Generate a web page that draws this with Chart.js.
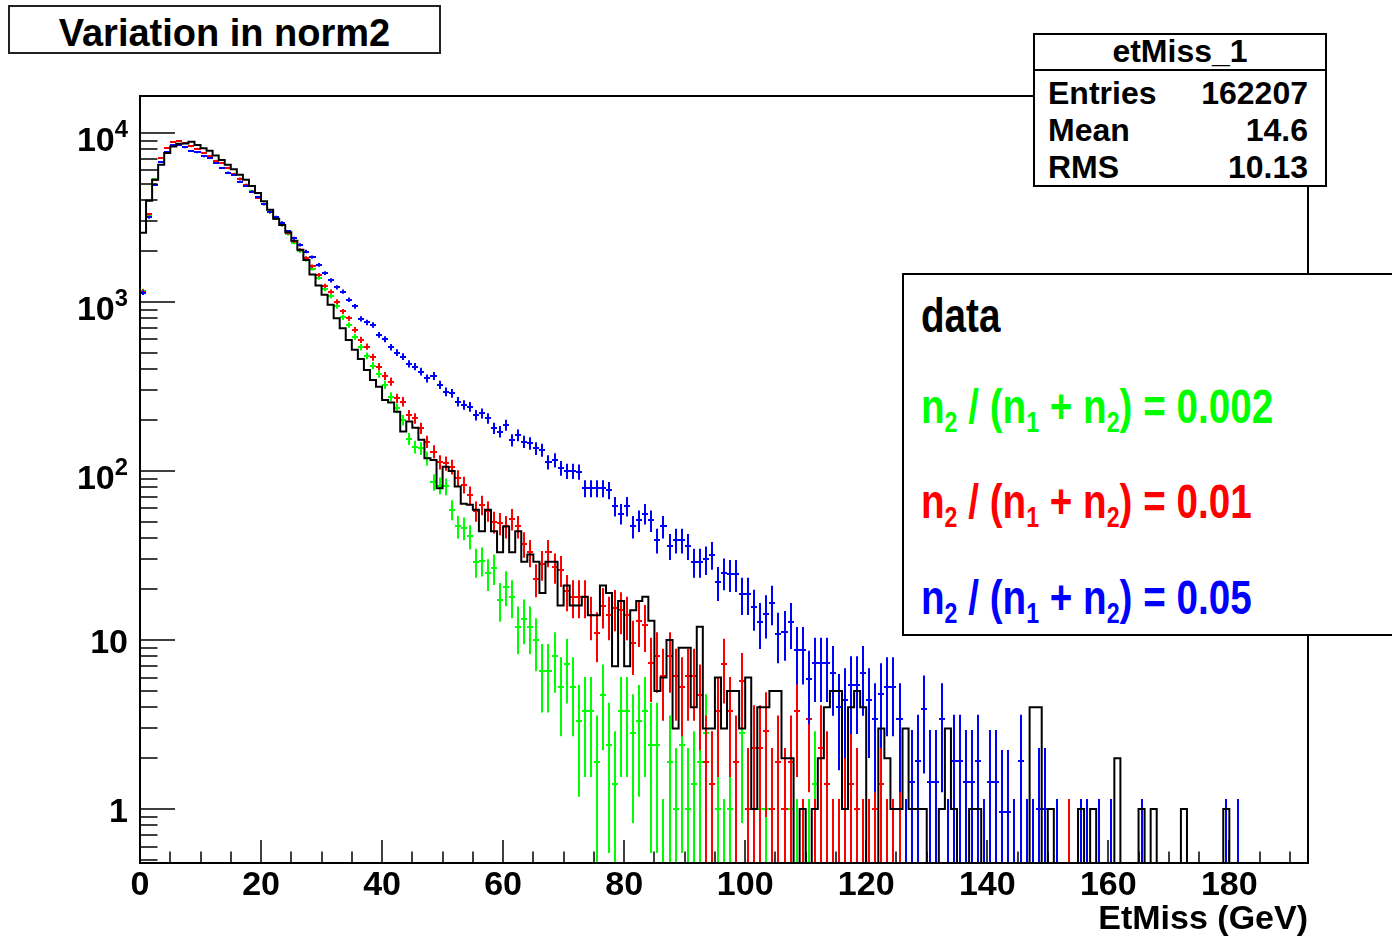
<!DOCTYPE html>
<html>
<head>
<meta charset="utf-8">
<script src="https://cdn.jsdelivr.net/npm/chart.js@4.4.1/dist/chart.umd.min.js"></script>
<style>
  html, body { margin: 0; padding: 0; background: #fff; }
  #wrap { position: relative; width: 1392px; height: 940px; overflow: hidden; background: #fff; }
  #chart { position: absolute; left: 0; top: 0; }
  .box { position: absolute; background: #fff; border: 2px solid #000; box-sizing: border-box;
         font-family: "Liberation Sans", Arial, Helvetica, sans-serif; font-weight: bold; color: #000; }
  .t { position: absolute; line-height: 1; white-space: nowrap; }
  #titleBox { left: 8px; top: 5px; width: 433px; height: 49px; border-color: #222; }
  #titleBox .t { left: 0; right: 0; text-align: center; top: 7px; font-size: 38px; }
  #statsBox { left: 1033px; top: 33px; width: 294px; height: 154px; }
  #statsBox .head { left: 0; right: 0; text-align: center; top: 0px; font-size: 32px; }
  #statsBox .rule { position: absolute; left: 0; right: 0; top: 34px; border-top: 2px solid #000; }
  #statsBox .k { left: 13px; font-size: 32px; }
  #statsBox .v { right: 17px; font-size: 32px; }
  #legBox { left: 902px; top: 273px; width: 520px; height: 363px; }
  #legBox .t { left: 17px; font-size: 48px; transform: scaleX(0.805); transform-origin: 0 0; }
  #legBox sub { font-size: 0.6em; vertical-align: -0.3em; line-height: 0; }
  .ylab { position: absolute; right: 1264px; line-height: 1; white-space: nowrap; color: #000;
          font-family: "Liberation Sans", Arial, sans-serif; font-weight: bold; font-size: 34px; }
  .ylab sup { font-size: 0.7em; vertical-align: 0.6em; line-height: 0; }
</style>
</head>
<body>
<div id="wrap">
  <canvas id="chart" width="1392" height="940"></canvas>
  <div class="box" id="titleBox"><div class="t">Variation in norm2</div></div>
  <div class="box" id="statsBox">
    <div class="t head">etMiss_1</div>
    <div class="rule"></div>
    <div class="t k" style="top:42px">Entries</div><div class="t v" style="top:42px">162207</div>
    <div class="t k" style="top:79px">Mean</div><div class="t v" style="top:79px">14.6</div>
    <div class="t k" style="top:116px">RMS</div><div class="t v" style="top:116px">10.13</div>
  </div>
  <div class="box" id="legBox">
    <div class="t" style="top:17px;color:#000">data</div>
    <div class="t" style="top:108px;color:#00ff00">n<sub>2</sub> / (n<sub>1</sub> + n<sub>2</sub>) = 0.002</div>
    <div class="t" style="top:203px;color:#ff0000">n<sub>2</sub> / (n<sub>1</sub> + n<sub>2</sub>) = 0.01</div>
    <div class="t" style="top:299px;color:#0000ff">n<sub>2</sub> / (n<sub>1</sub> + n<sub>2</sub>) = 0.05</div>
  </div>
</div>
<script>
// histogram: 193 bins of 1 GeV, EtMiss from 0 to 193
var nBins = 193;
var xMax = 193;
var yMin = 0.48, yMax = 16500;

// data histogram (black)
var black = [
  900, 2560, 3960, 5270, 6460, 7590, 8300, 8600, 8650, 8860,
  8470, 8110, 7820, 7330, 6910, 6460, 6080, 5650, 5270, 4840,
  4410, 3930, 3500, 3100, 2850, 2580, 2300, 2030, 1770, 1450,
  1250, 1100, 960, 800, 698, 595, 520, 460, 396, 345,
  315, 263, 254, 224, 171, 196, 180, 153, 119, 116,
  79, 106, 100, 81, 64, 63, 59, 44, 59, 44,
  33, 47, 33, 44, 29, 32, 29, 19, 29, 29,
  16, 21, 16, 16, 18, 14, 14, 21, 19, 7,
  17, 7, 15, 17, 18, 13, 5, 6, 10, 3,
  9, 9, 4, 12, 3, 3, 6, 3, 5, 5,
  3, 6, 1, 4, 4, 5, 5, 2, 2, 0,
  1, 0, 1, 2, 4, 5, 5, 1, 4, 5,
  4, 0, 0, 3, 2, 1, 1, 3, 1, 1,
  1, 0, 0, 1, 3, 1, 0, 0, 1, 1,
  0, 0, 0, 0, 0, 0, 0, 0, 4, 4,
  0, 1, 0, 0, 0, 0, 1, 0, 1, 0,
  0, 0, 2, 0, 0, 0, 1, 0, 1, 0,
  0, 0, 0, 1, 0, 0, 0, 0, 0, 0,
  1, 0, 0, 0, 0, 0, 0, 0, 0, 0,
  0, 0, 0
];

// n2/(n1+n2) = 0.002 (green)
var green = [
  1160, 3280, 5300, 7100, 8150, 8820, 8950, 8700, 8320, 8060,
  7620, 7260, 6850, 6630, 6200, 5720, 5360, 4930, 4500, 4150,
  3770, 3380, 3110, 2830, 2520, 2240, 1990, 1770, 1570, 1390,
  1190, 1080, 940, 810, 730, 620, 540, 480, 420, 375,
  323, 275, 235, 200, 155, 139, 136, 119, 86, 82,
  81, 59, 47, 46, 41, 29, 29.5, 24.8, 26.6, 17.3,
  20.7, 18, 12, 13.4, 12, 10, 6.6, 6.6, 8.0, 5.3,
  7.2, 5.3, 3.3, 3.8, 3.8, 1.9, 4.7, 2.4, 1.4, 3.8,
  3.8, 2.8, 3.3, 3.8, 2.4, 2.4, 0.3, 1.9, 1.0, 2.4,
  1.0, 1.4, 1.9, 2.8, 1.4, 1.0, 0.3, 1.0, 0.3, 2.8,
  1.0, 0.3, 1.0, 1.0, 0.3, 0.3, 0.3, 1.0, 0.3, 0.3,
  0.3, 1.4, 0.3, 0, 0, 0, 0, 0, 0, 0,
  0, 0, 0, 0, 0, 0, 0, 0, 0, 0,
  0, 0, 0, 0, 0, 0, 0, 0, 0, 0,
  0, 0, 0, 0, 0, 0, 0, 0, 0, 0,
  0, 0, 0, 0, 0, 0, 0, 0, 0, 0,
  0, 0, 0, 0, 0, 0, 0, 0, 0, 0,
  0, 0, 0, 0, 0, 0, 0, 0, 0, 0,
  0, 0, 0, 0, 0, 0, 0, 0, 0, 0,
  0, 0, 0
];

// n2/(n1+n2) = 0.01 (red)
var red = [
  1150, 3300, 5270, 7080, 8110, 8800, 8970, 8690, 8300, 8040,
  7590, 7240, 6820, 6610, 6180, 5700, 5340, 4920, 4490, 4140,
  3780, 3390, 3130, 2855, 2550, 2275, 2030, 1815, 1620, 1445,
  1245, 1150, 1004, 877, 800, 683, 596, 544, 471, 414,
  365, 338, 269, 257, 214, 205, 179, 149, 130, 113,
  111, 106, 91, 83, 72, 58, 63, 58, 50, 49,
  47, 52, 47, 37, 33, 23, 28, 33, 27, 26,
  19.5, 18, 18, 18, 14, 11, 16, 14, 15.5, 15,
  14, 9.6, 13, 12.3, 7.3, 8, 6.1, 8.0, 6.1, 5.3,
  6.1, 6.1, 4.7, 1.9, 1.4, 3.8, 7.2, 3.8, 1.9, 5.7,
  1.0, 2.3, 2.3, 2.9, 1.0, 1.9, 1.0, 1.9, 3.8, 0.3,
  3.4, 0.3, 2.3, 1.4, 0.3, 0.3, 1.0, 1.4, 1.0, 0.3,
  0.3, 1.0, 1.4, 0.3, 0.3, 1.0, 0.3, 0, 0, 0,
  0, 0, 0, 0, 0, 0, 0, 0, 0, 0,
  0, 0, 0, 0, 0, 0, 0, 0, 0, 0,
  0, 0, 0, 0.3, 0, 0, 0, 0, 0, 0,
  0, 0, 0, 0, 0, 0, 0, 0, 0, 0,
  0, 0, 0, 0, 0, 0, 0, 0, 0, 0,
  0, 0, 0, 0, 0, 0, 0, 0, 0, 0,
  0, 0, 0
];

// n2/(n1+n2) = 0.05 (blue)
var blue = [
  1130, 3160, 4920, 6710, 7650, 8410, 8480, 8190, 7820, 7650,
  7240, 7080, 6610, 6180, 5820, 5640, 5150, 4850, 4490, 4160,
  3800, 3420, 3170, 2945, 2610, 2380, 2175, 1985, 1840, 1655,
  1480, 1340, 1220, 1150, 1030, 940, 793, 755, 731, 638,
  601, 540, 501, 475, 430, 414, 387, 353, 365, 323,
  294, 288, 257, 246, 240, 214, 219, 205, 179, 171,
  187, 152, 163, 149, 146, 136, 133, 113, 116, 104,
  100, 100, 99, 79, 79, 79, 79, 77, 62, 56,
  62, 47, 51, 56, 51, 39, 47, 36, 39, 39,
  36, 29, 29, 30, 32, 22, 25, 24.5, 24.5, 18.7,
  18.7, 15.6, 12.7, 14.3, 16.6, 10.9, 11.2, 12.7, 8.7, 8.7,
  5.9, 7.3, 7.3, 7.3, 6.4, 4.0, 4.4, 5.4, 5.4, 6.4,
  4.4, 3.4, 4.8, 5.3, 5.3, 3.4, 0.3, 1.44, 1.93, 3.9,
  1.44, 1.44, 3.4, 0.3, 1.93, 1.93, 1.44, 1.44, 1.93, 0.3,
  1.44, 1.44, 0.96, 0.96, 0.3, 1.93, 0.3, 0.3, 1.0, 1.0,
  0, 0.3, 0, 0, 0, 0.3, 0.3, 0, 0.3, 0,
  0.3, 0, 0, 0, 0, 0.3, 0, 0, 0, 0,
  0, 0, 0, 0, 0, 0, 0, 0, 0, 0.3,
  0, 0.3, 0, 0, 0, 0, 0, 0, 0, 0,
  0, 0, 0
];

// y labels: 10^exp, exp = null means plain text
var yLabelValues = [1, 10, 100, 1000, 10000];
var yLabelBase = ['1', '10', '10', '10', '10'];
var yLabelExp = [null, null, '2', '3', '4'];

var floorVal = 0.05;
function errOf(v) { return Math.sqrt(v) + 0.3; }

var blackSteps = black.map(function (v, i) { return { x: i, y: v > 0 ? v : floorVal }; });
blackSteps.push({ x: nBins, y: blackSteps[nBins - 1].y });

function points(arr) {
  var out = [];
  arr.forEach(function (v, i) { if (v > 0) out.push({ x: i + 0.5, y: v }); });
  return out;
}

var rootStyle = {
  id: 'rootStyle',
  beforeDatasetsDraw: function (chart) {
    var ctx = chart.ctx, a = chart.chartArea, xs = chart.scales.x, ys = chart.scales.y;
    ctx.save();
    ctx.beginPath();
    ctx.rect(a.left, a.top, a.right - a.left, a.bottom - a.top);
    ctx.clip();
    ctx.lineWidth = 2;
    chart.data.datasets.forEach(function (ds) {
      if (!ds.errorBars) return;
      ctx.strokeStyle = ds.borderColor;
      ctx.beginPath();
      ds.data.forEach(function (p) {
        var e = errOf(p.y);
        var xc = Math.round(xs.getPixelForValue(p.x));
        var x0 = Math.round(xs.getPixelForValue(p.x - 0.5));
        var x1 = Math.round(xs.getPixelForValue(p.x + 0.5));
        var yc = Math.round(ys.getPixelForValue(p.y));
        var yTop = ys.getPixelForValue(p.y + e);
        var yBot = ys.getPixelForValue(Math.max(p.y - e, floorVal));
        ctx.moveTo(x0, yc); ctx.lineTo(x1, yc);
        ctx.moveTo(xc, yBot); ctx.lineTo(xc, yTop);
      });
      ctx.stroke();
    });
    ctx.restore();
  },
  afterDatasetsDraw: function (chart) {
    var ctx = chart.ctx, a = chart.chartArea, xs = chart.scales.x, ys = chart.scales.y;
    ctx.save();
    ctx.strokeStyle = '#000';
    ctx.lineWidth = 1.5;
    ctx.beginPath();
    for (var d = -1; d <= 5; d++) {
      for (var m = 1; m <= 9; m++) {
        var v = m * Math.pow(10, d);
        if (v < ys.min || v > ys.max) continue;
        var py = Math.round(ys.getPixelForValue(v));
        ctx.moveTo(a.left, py); ctx.lineTo(a.left + (m === 1 ? 35 : 17.5), py);
      }
    }
    for (var t = 5; t <= xs.max; t += 5) {
      var px = Math.round(xs.getPixelForValue(t));
      ctx.moveTo(px, a.bottom); ctx.lineTo(px, a.bottom - (t % 20 === 0 ? 23 : 11.5));
    }
    ctx.stroke();
    ctx.lineWidth = 2;
    ctx.strokeRect(a.left, a.top, a.right - a.left, a.bottom - a.top);
    ctx.restore();
  }
};

var tickFont = { family: '"Liberation Sans", Arial, sans-serif', size: 34, weight: 'bold' };

var chart = new Chart(document.getElementById('chart').getContext('2d'), {
  type: 'line',
  data: {
    datasets: [
      { label: 'data', data: blackSteps, borderColor: '#000000', borderWidth: 2,
        stepped: 'after', pointRadius: 0, fill: false },
      { label: 'n2/(n1+n2) = 0.002', data: points(green), borderColor: '#00ff00',
        showLine: false, pointRadius: 0, errorBars: true },
      { label: 'n2/(n1+n2) = 0.01', data: points(red), borderColor: '#ff0000',
        showLine: false, pointRadius: 0, errorBars: true },
      { label: 'n2/(n1+n2) = 0.05', data: points(blue), borderColor: '#0000ff',
        showLine: false, pointRadius: 0, errorBars: true }
    ]
  },
  options: {
    responsive: false,
    animation: false,
    devicePixelRatio: 1,
    layout: { padding: { left: 0, top: 96, right: 84, bottom: 0 } },
    plugins: { legend: { display: false }, tooltip: { enabled: false } },
    scales: {
      x: {
        type: 'linear', min: 0, max: xMax,
        grid: { display: false, drawTicks: false },
        border: { display: false },
        ticks: { stepSize: 20, includeBounds: false, autoSkip: false, maxRotation: 0,
                 padding: 2, color: '#000', font: tickFont },
        title: { display: true, text: 'EtMiss (GeV)', align: 'end', color: '#000',
                 font: tickFont, padding: { top: 0, bottom: 0 } },
        afterFit: function (s) { s.height = 77; }
      },
      y: {
        type: 'logarithmic', min: yMin, max: yMax,
        grid: { display: false, drawTicks: false },
        border: { display: false },
        ticks: { display: false },
        afterFit: function (s) { s.width = 140; }
      }
    }
  },
  plugins: [rootStyle]
});

// y-axis labels (10^n with real superscripts), placed with the chart's own y scale
var wrap = document.getElementById('wrap');
yLabelValues.forEach(function (v, k) {
  var py = chart.scales.y.getPixelForValue(v);
  var el = document.createElement('div');
  el.className = 'ylab';
  el.textContent = yLabelBase[k];
  if (yLabelExp[k]) {
    var s = document.createElement('sup');
    s.textContent = yLabelExp[k];
    el.appendChild(s);
    el.style.top = (py - 11) + 'px';
  } else {
    el.style.top = (py - 16) + 'px';
  }
  wrap.appendChild(el);
});
</script>
</body>
</html>
